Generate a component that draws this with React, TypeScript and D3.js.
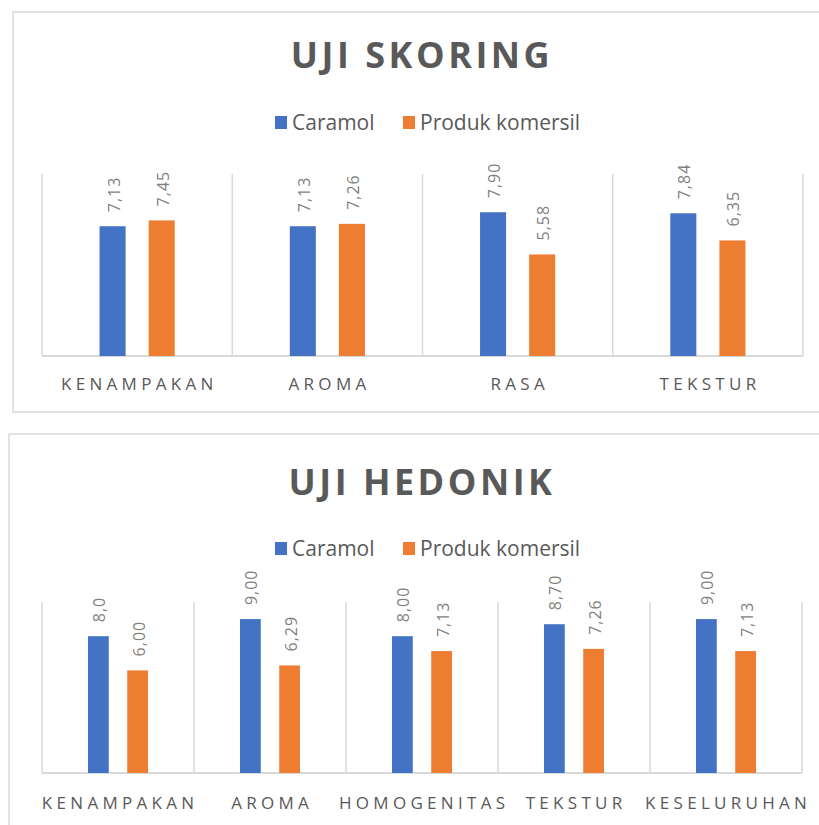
import React from 'react';
import * as d3 from 'd3';

// series names
const seriesNames = ['Caramol', 'Produk komersil'];
const seriesColors = ['#4472C4', '#ED7D31'];

// UJI SKORING
const skoringCategories = ['KENAMPAKAN', 'AROMA', 'RASA', 'TEKSTUR'];
const skoringCaramol = [7.13, 7.13, 7.9, 7.84];
const skoringKomersil = [7.45, 7.26, 5.58, 6.35];
const skoringCaramolLabels = ['7,13', '7,13', '7,90', '7,84'];
const skoringKomersilLabels = ['7,45', '7,26', '5,58', '6,35'];

// UJI HEDONIK
const hedonikCategories = ['KENAMPAKAN', 'AROMA', 'HOMOGENITAS', 'TEKSTUR', 'KESELURUHAN'];
const hedonikCaramol = [8.0, 9.0, 8.0, 8.7, 9.0];
const hedonikKomersil = [6.0, 6.29, 7.13, 7.26, 7.13];
const hedonikCaramolLabels = ['8,0', '9,00', '8,00', '8,70', '9,00'];
const hedonikKomersilLabels = ['6,00', '6,29', '7,13', '7,26', '7,13'];

const yMax = 10;
const gray = '#595959';
const gridColor = '#d9d9d9';
const font = '"Open Sans", sans-serif';

type PanelProps = {
  title: string;
  categories: string[];
  values: number[][];
  labels: string[][];
  box: { x: number; y: number; w: number; h: number };
  titleY: number;
  legendY: number;
  plot: { left: number; right: number; top: number; bottom: number };
  catY: number;
};

function Panel({ title, categories, values, labels, box, titleY, legendY, plot, catY }: PanelProps) {
  const x = d3.scaleBand<string>().domain(categories).range([plot.left, plot.right]).padding(0);
  const y = d3.scaleLinear().domain([0, yMax]).range([plot.bottom, plot.top]);
  const cw = x.bandwidth();
  const groupW = cw * 0.395;
  const inner = d3.scaleBand<string>().domain(seriesNames).range([0, groupW]).paddingInner(0.47).paddingOuter(0);
  const cx = 422;
  const legendItems = [
    { sq: cx - 147, tx: cx - 130 },
    { sq: cx - 19, tx: cx - 2 },
  ];
  const boundaries = categories.map((c) => x(c) as number).concat([plot.right]);
  const catSpacing = 4.3;

  return (
    <g>
      <rect x={box.x} y={box.y} width={box.w} height={box.h} fill="#fff" stroke={gridColor} strokeWidth={1.5} />
      <text x={cx} y={titleY} textAnchor="middle" fontFamily={font} fontWeight={700} fontSize={36}
        letterSpacing={3.5} fill={gray}>{title}</text>
      {seriesNames.map((s, i) => (
        <g key={s}>
          <rect x={legendItems[i].sq} y={legendY - 7} width={12} height={13} fill={seriesColors[i]} />
          <text x={legendItems[i].tx} y={legendY + 7} fontFamily={font} fontSize={21} fill={gray}>{s}</text>
        </g>
      ))}
      {boundaries.map((b, i) => (
        <line key={i} x1={b} x2={b} y1={plot.top} y2={plot.bottom} stroke={gridColor} strokeWidth={1.5} />
      ))}
      <line x1={plot.left} x2={plot.right} y1={plot.bottom} y2={plot.bottom} stroke={gridColor} strokeWidth={2} />
      {categories.map((c, ci) => {
        const gx = (x(c) as number) + (cw - groupW) / 2;
        return (
          <g key={c}>
            {seriesNames.map((s, si) => {
              const v = values[si][ci];
              const bx = gx + (inner(s) as number);
              const bw = inner.bandwidth();
              const top = y(v);
              const lx = bx + bw / 2 + 1;
              const ly = top - 14;
              return (
                <g key={s}>
                  <rect x={bx} y={top} width={bw} height={y(0) - top} fill={seriesColors[si]} />
                  <text transform={`translate(${lx},${ly}) rotate(-90)`} dominantBaseline="central"
                    fontFamily={font} fontSize={16} letterSpacing={1} fill="#7f7f7f">{labels[si][ci]}</text>
                </g>
              );
            })}
            <text x={(x(c) as number) + cw / 2 + catSpacing / 2} y={catY} textAnchor="middle" fontFamily={font}
              fontSize={17} letterSpacing={catSpacing} fill={gray}>{c}</text>
          </g>
        );
      })}
    </g>
  );
}

export default function App() {
  return (
    <svg width={819} height={825} style={{ position: 'absolute', left: 0, top: 0, background: '#fff' }}>
      <Panel
        title="UJI SKORING"
        categories={skoringCategories}
        values={[skoringCaramol, skoringKomersil]}
        labels={[skoringCaramolLabels, skoringKomersilLabels]}
        box={{ x: 13, y: 12, w: 830, h: 400 }}
        titleY={68}
        legendY={123}
        plot={{ left: 42, right: 803, top: 174, bottom: 356 }}
        catY={390}
      />
      <Panel
        title="UJI HEDONIK"
        categories={hedonikCategories}
        values={[hedonikCaramol, hedonikKomersil]}
        labels={[hedonikCaramolLabels, hedonikKomersilLabels]}
        box={{ x: 9, y: 434, w: 840, h: 420 }}
        titleY={495}
        legendY={549}
        plot={{ left: 42, right: 802, top: 602, bottom: 773 }}
        catY={809}
      />
    </svg>
  );
}
